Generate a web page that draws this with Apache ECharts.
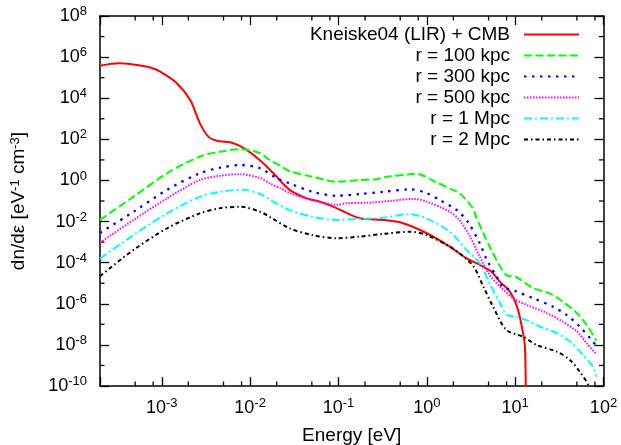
<!DOCTYPE html>
<html><head><meta charset="utf-8">
<script src="https://cdn.jsdelivr.net/npm/echarts@6/dist/echarts.min.js"></script>
<style>html,body{margin:0;padding:0;background:#fff}#c{width:621px;height:445px}</style>
</head><body><div id="c"></div><script>
// ---- data (Energy [eV], dn/de [eV^-1 cm^-3]) ----
const seriesNames = ['Kneiske04 (LIR) + CMB', 'r = 100 kpc', 'r = 300 kpc', 'r = 500 kpc', 'r = 1 Mpc', 'r = 2 Mpc'];
const kneiske = [[2.0e-4,3.8e5],[3.3e-4,5.0e5],[5.0e-4,4.2e5],[7.4e-4,3.1e5],[9.6e-4,1.95e5],[1.48e-3,5.4e4],[2.1e-3,8.1e3],[2.7e-3,600],[3.37e-3,135],[4.2e-3,85],[6.45e-3,65],[9.2e-3,30],[1.41e-2,6.9],[2.0e-2,1.5],[2.8e-2,0.35],[4.37e-2,0.135],[6.2e-2,0.093],[9.5e-2,0.045],[0.174,0.0145],[0.32,0.012],[0.54,8.3e-3],[1.0,2.7e-3],[1.82,6.0e-4],[2.82,1.62e-4],[3.98,7.8e-5],[5.4,3.6e-5],[6.7,1.2e-5],[8.7,3.9e-6],[10.5,7.2e-7],[11.7,1.1e-7],[12.9,8.3e-9],[13.2,1e-11]];
const r100kpc = [[2.0e-4,1.2e-2],[4.8e-4,0.162],[1.15e-3,2.24],[2.7e-3,14.5],[4.6e-3,25],[7.8e-3,33],[1.3e-2,21],[1.66e-2,10],[2.2e-2,5.2],[2.8e-2,2.8],[5.1e-2,1.5],[9.5e-2,0.87],[0.174,1.05],[0.27,1.15],[0.35,1.5],[0.65,2.0],[0.76,2.1],[1.29,0.8],[1.82,0.40],[2.34,0.24],[3.3,0.046],[3.63,0.016],[4.37,2.7e-3],[5.37,4.2e-4],[6.76,6.5e-5],[7.94,2.5e-5],[10.4,1.95e-5],[12.3,1.2e-5],[16,5.8e-6],[24.5,3.2e-6],[34.7,1.26e-6],[50,3.5e-7],[64.6,9.3e-8],[80,2.1e-8],[83,1.6e-8]];
const r300kpc = [[2.0e-4,2.8e-3],[4.8e-4,0.030],[1.15e-3,0.35],[2.7e-3,2.24],[4.6e-3,4.2],[7.8e-3,5.6],[1.3e-2,3.9],[2.0e-2,1.3],[2.8e-2,0.72],[5.1e-2,0.28],[9.5e-2,0.18],[0.174,0.22],[0.32,0.28],[0.65,0.37],[1.0,0.24],[1.41,0.11],[2.19,0.036],[2.95,8.9e-3],[3.98,8.7e-4],[4.79,1.35e-4],[6.17,2.1e-5],[7.24,6.8e-6],[10.4,3.9e-6],[16,1.86e-6],[26.9,7.2e-7],[38,2.9e-7],[53.7,7.8e-8],[70.8,2.1e-8],[83,8.9e-9]];
const r500kpc = [[2.0e-4,9.3e-4],[4.8e-4,0.012],[1.15e-3,0.135],[2.7e-3,1.05],[4.6e-3,1.7],[7.8e-3,2.0],[1.3e-2,1.3],[1.66e-2,0.72],[2.2e-2,0.42],[2.8e-2,0.24],[5.1e-2,0.11],[9.5e-2,0.065],[0.123,0.078],[0.23,0.083],[0.38,0.10],[0.71,0.126],[1.0,0.093],[1.82,0.030],[2.34,0.012],[3.09,1.86e-3],[3.98,1.95e-4],[5.13,2.5e-5],[6.76,6.8e-6],[9.5,1.86e-6],[13.5,8.7e-7],[20.9,4.2e-7],[32.4,1.6e-7],[50,4.5e-8],[64.6,1.2e-8],[83,3.5e-9]];
const r1Mpc = [[2.0e-4,1.6e-4],[4.8e-4,2.2e-3],[1.15e-3,0.025],[2.7e-3,0.16],[4.6e-3,0.28],[8.3e-3,0.35],[1.3e-2,0.22],[1.66e-2,0.12],[2.8e-2,0.036],[5.1e-2,0.017],[9.5e-2,0.012],[0.174,0.0135],[0.32,0.0155],[0.65,0.023],[1.0,0.014],[1.82,3.2e-3],[2.82,4.2e-4],[3.98,9.3e-5],[5.13,1.0e-5],[6.76,1.07e-6],[7.94,2.9e-7],[10.4,2.3e-7],[13.5,1.6e-7],[19.1,7.8e-8],[29.5,3.7e-8],[41.7,1.45e-8],[58.9,3.2e-9],[75.9,8.7e-10],[83,2.8e-10]];
const r2Mpc = [[2.0e-4,2.2e-5],[4.8e-4,4.2e-4],[1.15e-3,4.7e-3],[2.7e-3,0.025],[4.6e-3,0.045],[7.8e-3,0.052],[1.3e-2,0.030],[1.66e-2,0.017],[2.8e-2,4.7e-3],[5.1e-2,2.2e-3],[9.5e-2,1.55e-3],[0.174,1.86e-3],[0.32,2.5e-3],[0.65,3.2e-3],[1.0,2.2e-3],[1.82,6.0e-4],[2.34,2.9e-4],[3.39,6.5e-5],[4.37,6.8e-6],[5.62,7.2e-7],[7.94,5.4e-8],[12.3,2.5e-8],[17.4,1.0e-8],[29.5,4.7e-9],[41.7,1.86e-9],[53.7,5.0e-10],[67.6,1.1e-10],[75,3e-11]];
const xRange = [2e-4, 100];
const yRange = [1e-10, 1e8];
const minorTicksX = [5e-4, 8e-4, 2e-3, 5e-3, 8e-3, 2e-2, 5e-2, 8e-2, 0.2, 0.5, 0.8, 2, 5, 8, 20, 50, 80];
const minorTicksY = [1e-9, 1e-7, 1e-5, 1e-3, 1e-1, 1e1, 1e3, 1e5, 1e7];

const FONT = 'Liberation Sans, Arial, Helvetica, sans-serif';
const chart = echarts.init(document.getElementById('c'), null, {renderer: 'canvas'});
const rich = {
  b: {fontSize: 18, fontFamily: FONT, color: '#000', lineHeight: 22},
  s: {fontSize: 13, fontFamily: FONT, color: '#000', lineHeight: 12, verticalAlign: 'top'}
};
function powLabel(v) {
  const l = Math.log10(v);
  const e = Math.round(l);
  if (Math.abs(l - e) > 1e-6) return '';
  return '{b|10}{s|' + e + '}';
}
const tickStyle = {show: true, inside: true, length: 9, lineStyle: {color: '#000', width: 1.3}};
const axisLine = {show: true, onZero: false, lineStyle: {color: '#000', width: 1.5}};
function xAxisCfg(pos, labels) {
  return {
    type: 'log', logBase: 10, min: xRange[0], max: xRange[1], position: pos,
    axisLine, axisTick: tickStyle, splitLine: {show: false}, minorTick: {show: false},
    axisLabel: labels ? {show: true, margin: 11, formatter: powLabel, rich} : {show: false},
    name: labels ? 'Energy [eV]' : '', nameLocation: 'middle', nameGap: 40,
    nameTextStyle: {fontSize: 19, fontFamily: FONT, color: '#000'}
  };
}
function yAxisCfg(pos, labels) {
  return {
    type: 'log', logBase: 100, min: yRange[0], max: yRange[1], position: pos,
    axisLine, axisTick: tickStyle, splitLine: {show: false}, minorTick: {show: false},
    axisLabel: labels ? {show: true, margin: 13, formatter: powLabel, rich} : {show: false},
    name: labels ? 'dn/dε [eV{s|-1} cm{s|-3}]' : '', nameLocation: 'middle', nameGap: 72,
    nameTextStyle: {fontSize: 19, fontFamily: FONT, color: '#000', rich: {
      s: {fontSize: 13, fontFamily: FONT, color: '#000', lineHeight: 12, verticalAlign: 'top'}}}
  };
}
function lineSeries(name, data, color, dash, width) {
  return {
    name, type: 'line', data, xAxisIndex: 0, yAxisIndex: 0, showSymbol: false, symbol: 'none',
    smooth: 0.3, clip: true, animation: false,
    lineStyle: {color, width: width || 2, type: dash || 'solid'}, itemStyle: {color}
  };
}
const option = {
  backgroundColor: '#fff',
  animation: false,
  grid: {left: 100, right: 17.5, top: 16, bottom: 59, containLabel: false, outerBoundsMode: 'none'},
  xAxis: [xAxisCfg('bottom', true), xAxisCfg('top', false)],
  yAxis: [yAxisCfg('left', true), yAxisCfg('right', false)],
  legend: {
    show: true, orient: 'vertical', align: 'right', right: 41, top: 25, padding: 0,
    itemWidth: 55, itemHeight: 10, itemGap: 2,
    data: seriesNames,
    itemStyle: {opacity: 0},
    textStyle: {fontSize: 19, fontFamily: FONT, color: '#000', lineHeight: 18, padding: [0, 9, 0, 0]}
  },
  series: [
    lineSeries(seriesNames[0], kneiske, '#ff0000', 'solid', 2),
    lineSeries(seriesNames[1], r100kpc, '#00ff00', [8, 3.5], 2),
    lineSeries(seriesNames[2], r300kpc, '#0000ff', [2.5, 5.5], 2.3),
    lineSeries(seriesNames[3], r500kpc, '#ff00ff', [1.5, 1.5], 2),
    lineSeries(seriesNames[4], r1Mpc, '#00ffff', [8, 3, 2, 3], 2),
    lineSeries(seriesNames[5], r2Mpc, '#000000', [4, 3, 1.5, 3], 2),
    {
      type: 'custom', name: 'minorX', silent: true, xAxisIndex: 0, yAxisIndex: 0, clip: false,
      data: minorTicksX.map(v => [v, 1]),
      renderItem: function (params, api) {
        const cs = params.coordSys;
        const x = api.coord([api.value(0), 1])[0];
        const st = {stroke: '#000', lineWidth: 1.3};
        return {type: 'group', children: [
          {type: 'line', shape: {x1: x, y1: cs.y + cs.height, x2: x, y2: cs.y + cs.height - 4.5}, style: st},
          {type: 'line', shape: {x1: x, y1: cs.y, x2: x, y2: cs.y + 4.5}, style: st}
        ]};
      }
    },
    {
      type: 'custom', name: 'minorY', silent: true, xAxisIndex: 0, yAxisIndex: 0, clip: false,
      data: minorTicksY.map(v => [1, v]),
      renderItem: function (params, api) {
        const cs = params.coordSys;
        const y = api.coord([1, api.value(1)])[1];
        const st = {stroke: '#000', lineWidth: 1.3};
        return {type: 'group', children: [
          {type: 'line', shape: {x1: cs.x, y1: y, x2: cs.x + 4.5, y2: y}, style: st},
          {type: 'line', shape: {x1: cs.x + cs.width, y1: y, x2: cs.x + cs.width - 4.5, y2: y}, style: st}
        ]};
      }
    }
  ]
};
chart.setOption(option);
</script></body></html>
